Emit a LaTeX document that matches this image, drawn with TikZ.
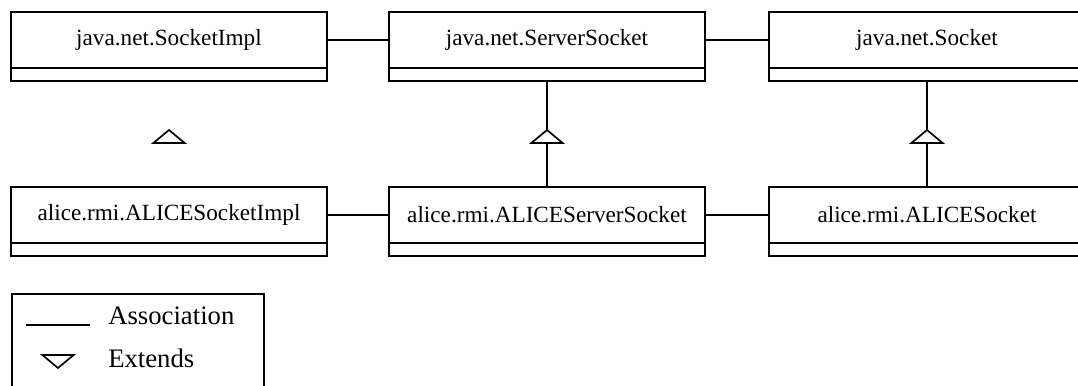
\documentclass[tikz,border=0pt]{standalone}
\usepackage{fontspec}
\setmainfont{Liberation Serif}
\usetikzlibrary{positioning}

\begin{document}
\begin{tikzpicture}[
  every node/.style={font=\fontsize{16.5}{20}\selectfont},
  cls/.style={draw, line width=1.4pt, outer sep=0pt, minimum width=7.9cm, minimum height=1.4cm, inner sep=0pt},
  attr/.style={draw, line width=1.4pt, outer sep=0pt, minimum width=7.9cm, minimum height=0.325cm, inner sep=0pt},
  assoc/.style={line width=1.2pt},
  key/.style={anchor=base west, inner sep=0pt, font=\fontsize{19}{22}\selectfont},
  gen/.pic={\draw[line width=1.2pt, fill=white] (0,0) -- (-0.39,-0.325) -- (0.39,-0.325) -- cycle;}
]
\useasboundingbox (0,0) rectangle (26.95,9.65);

\def\topY{8.65}
\def\botY{4.275}

\foreach \x/\n/\a/\b in {4.225/impl/SocketImpl/ALICESocketImpl,
                         13.675/server/ServerSocket/ALICEServerSocket,
                         23.175/sock/Socket/ALICESocket} {
  \node[cls] (j\n) at (\x,\topY) {java.net.\a};
  \node[attr, below=0pt of j\n] (j\n2) {};
  \node[cls] (a\n) at (\x,\botY) {alice.rmi.\b};
  \node[attr, below=0pt of a\n] (a\n2) {};
  \coordinate (t\n) at (\x,6.4);
  \coordinate (b\n) at (\x,6.075);
}

\draw[assoc] (jimpl) -- (jserver);
\draw[assoc] (jserver) -- (jsock);
\draw[assoc] (aimpl) -- (aserver);
\draw[assoc] (aserver) -- (asock);

\foreach \n in {server,sock} {
  \draw[assoc] (j\n2.south) -- (t\n);
  \draw[assoc] (b\n) -- (a\n.north);
  \pic at (t\n) {gen};
}
\pic at (timpl) {gen};

% legend
\node[draw, line width=1.4pt, anchor=north west, minimum width=6.3cm, minimum height=3cm] (legend) at (0.275,2.325) {};
\coordinate (la) at (0.65,1.525);
\coordinate (lb) at (2.25,1.525);
\draw[assoc] (la) -- (lb);
\node[key] (lassoc) at (2.7,1.525) {Association};
\pic[rotate=180] at (1.45,0.45) {gen};
\node[key] (lext) at (2.7,0.45) {Extends};
\end{tikzpicture}
\end{document}
